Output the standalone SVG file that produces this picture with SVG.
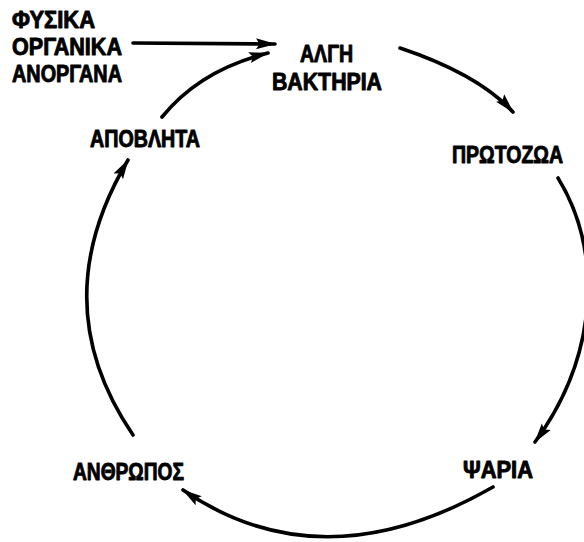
<svg xmlns="http://www.w3.org/2000/svg" width="584" height="542" viewBox="0 0 584 542">
  <style>
    .lbl { font-family: "Liberation Sans Narrow", "Liberation Sans", "DejaVu Sans", sans-serif; font-weight: bold; font-size: 23px; fill: #000; stroke: #000; stroke-width: 0.9; stroke-linejoin: round; }
    .edge { fill: none; stroke: #000; stroke-width: 3.6; stroke-linecap: round; }
  </style>
  <defs>
    <marker id="arrow" viewBox="0 0 20 12" markerWidth="20" markerHeight="12" refX="19" refY="6" markerUnits="userSpaceOnUse" orient="auto">
      <path d="M0,0.5 L20,6 L0,11.5 L3.5,6 Z" fill="#000"/>
    </marker>
  </defs>
  <rect width="584" height="542" fill="#fff"/>

  <!-- inputs -->
  <g id="inputs">
    <text class="lbl" x="12" y="28" textLength="83" lengthAdjust="spacingAndGlyphs">ΦΥΣΙΚΑ</text>
    <text class="lbl" x="12" y="55" textLength="110" lengthAdjust="spacingAndGlyphs">ΟΡΓΑΝΙΚΑ</text>
    <text class="lbl" x="12" y="82" textLength="110" lengthAdjust="spacingAndGlyphs">ΑΝΟΡΓΑΝΑ</text>
  </g>

  <g id="algae-bacteria">
    <text class="lbl" x="300" y="62" textLength="53" lengthAdjust="spacingAndGlyphs">ΑΛΓΗ</text>
    <text class="lbl" x="272" y="90" textLength="110" lengthAdjust="spacingAndGlyphs">ΒΑΚΤΗΡΙΑ</text>
  </g>

  <g id="protozoa">
    <text class="lbl" x="452" y="163" textLength="111" lengthAdjust="spacingAndGlyphs">ΠΡΩΤΟΖΩΑ</text>
  </g>

  <g id="fish">
    <text class="lbl" x="463" y="478" textLength="70" lengthAdjust="spacingAndGlyphs">ΨΑΡΙΑ</text>
  </g>

  <g id="human">
    <text class="lbl" x="73" y="480" textLength="111" lengthAdjust="spacingAndGlyphs">ΑΝΘΡΩΠΟΣ</text>
  </g>

  <g id="waste">
    <text class="lbl" x="90" y="147" textLength="110" lengthAdjust="spacingAndGlyphs">ΑΠΟΒΛΗΤΑ</text>
  </g>

  <!-- connectors -->
  <g id="connectors">
    <path class="edge" d="M133,43 L275,44" marker-end="url(#arrow)"/>
    <path class="edge" d="M400,48 Q478,74 513,112" marker-end="url(#arrow)"/>
    <path class="edge" d="M558,178 Q587,225 588,285 Q588,370 535,442" marker-end="url(#arrow)"/>
    <path class="edge" d="M493,487 Q322,585 183,490" marker-end="url(#arrow)"/>
    <path class="edge" d="M133,435 Q43,303 128,160" marker-end="url(#arrow)"/>
    <path class="edge" d="M162,117 Q200,70 268,53" marker-end="url(#arrow)"/>
  </g>
</svg>
